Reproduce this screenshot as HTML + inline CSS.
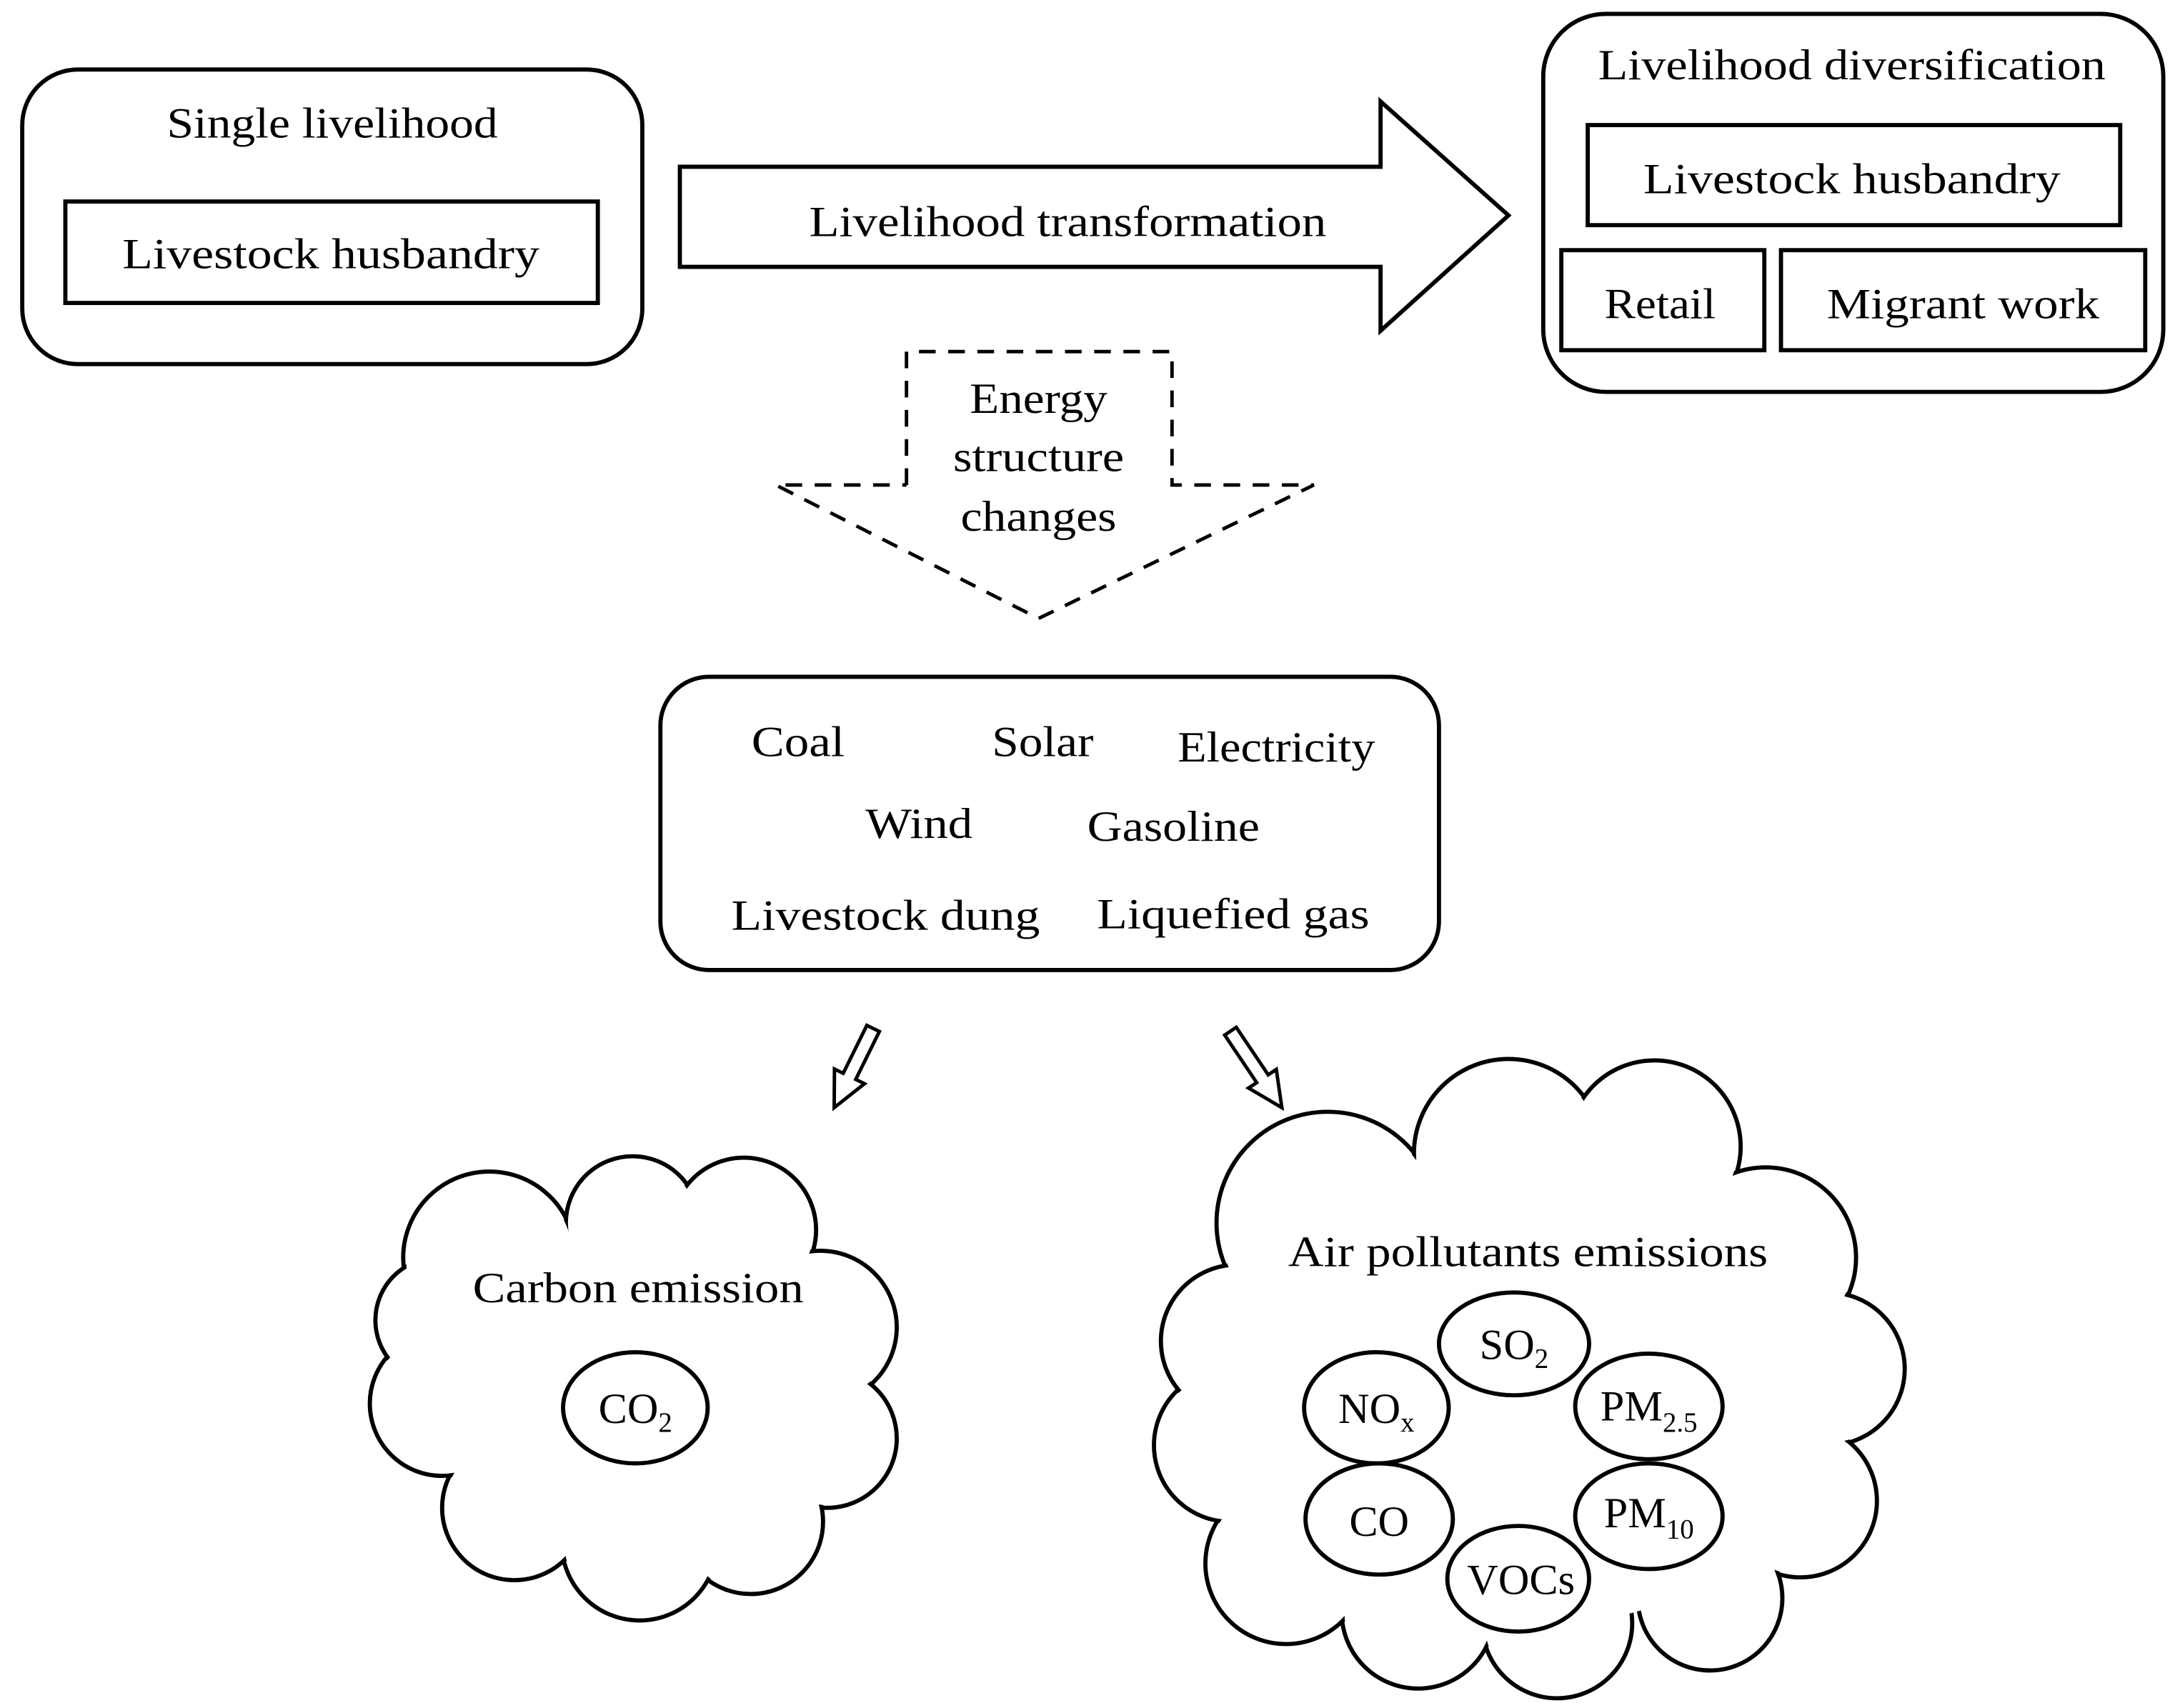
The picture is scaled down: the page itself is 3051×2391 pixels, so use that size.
<!DOCTYPE html>
<html><head><meta charset="utf-8"><style>
html,body{margin:0;padding:0;background:#fff;}
svg{display:block;}
text{font-family:"Liberation Serif",serif;font-size:31px;fill:#000;}
</style></head><body>
<svg width="3051" height="2391" viewBox="0 0 1568 1229" preserveAspectRatio="none" xmlns="http://www.w3.org/2000/svg">
<g fill="none" stroke="#000" stroke-width="3">
<rect x="16" y="50" width="446" height="212" rx="40"/>
<rect x="47" y="145" width="383" height="73"/>
<polygon points="489,120 993,120 993,73 1085,155 993,238 993,192 489,192" fill="#fff"/>
<rect x="1110" y="10" width="446" height="272" rx="45"/>
<rect x="1142" y="90" width="383" height="72"/>
<rect x="1123" y="180" width="146" height="72"/>
<rect x="1281" y="180" width="262" height="72"/>
<polyline points="652,349 652,253 843,253 843,349 945,349 747,445 558,349 652,349" stroke-dasharray="12,9" stroke-width="2.5"/>
<rect x="475" y="487" width="560" height="211" rx="35"/>
<polygon points="623.5,737.8 632.5,742.2 615.5,776.7 621.8,779.8 600,797 600.2,769.2 606.5,772.3" fill="#fff" stroke-width="2.5"/>
<polygon points="880.9,744.8 889.2,739.2 912.2,773.4 918,769.5 922,797 898,782.9 903.9,779" fill="#fff" stroke-width="2.5"/>
</g>
<g fill="#fff" stroke="#000" stroke-width="3">
<circle cx="352" cy="905" r="62"/><circle cx="455" cy="880" r="48"/><circle cx="535" cy="885" r="52"/>
<circle cx="590" cy="955" r="55"/><circle cx="595" cy="1035" r="50"/><circle cx="540" cy="1095" r="52"/>
<circle cx="460" cy="1110" r="56"/><circle cx="370" cy="1085" r="52"/><circle cx="318" cy="1010" r="52"/>
<circle cx="315" cy="950" r="45"/>
</g>
<g fill="#fff" stroke="none">
<circle cx="352" cy="905" r="60"/><circle cx="455" cy="880" r="46"/><circle cx="535" cy="885" r="50"/>
<circle cx="590" cy="955" r="53"/><circle cx="595" cy="1035" r="48"/><circle cx="540" cy="1095" r="50"/>
<circle cx="460" cy="1110" r="54"/><circle cx="370" cy="1085" r="50"/><circle cx="318" cy="1010" r="50"/>
<circle cx="315" cy="950" r="43"/><ellipse cx="455" cy="995" rx="140" ry="110"/>
</g>
<g fill="#fff" stroke="#000" stroke-width="3">
<circle cx="955" cy="880" r="80"/><circle cx="1085" cy="830" r="68"/><circle cx="1190" cy="825" r="62"/>
<circle cx="1270" cy="905" r="65"/><circle cx="1315" cy="985" r="55"/><circle cx="1295" cy="1080" r="55"/>
<circle cx="1230" cy="1150" r="52"/><circle cx="1120" cy="1168" r="54"/><circle cx="1020" cy="1160" r="55"/>
<circle cx="925" cy="1125" r="58"/><circle cx="885" cy="1040" r="55"/><circle cx="890" cy="965" r="55"/>
</g>
<g fill="#fff" stroke="none">
<circle cx="955" cy="880" r="78"/><circle cx="1085" cy="830" r="66"/><circle cx="1190" cy="825" r="60"/>
<circle cx="1270" cy="905" r="63"/><circle cx="1315" cy="985" r="53"/><circle cx="1295" cy="1080" r="53"/>
<circle cx="1230" cy="1150" r="50"/><circle cx="1120" cy="1168" r="52"/><circle cx="1020" cy="1160" r="53"/>
<circle cx="925" cy="1125" r="56"/><circle cx="885" cy="1040" r="53"/><circle cx="890" cy="965" r="53"/>
<ellipse cx="1100" cy="1000" rx="225" ry="170"/>
</g>
<g fill="none" stroke="#000" stroke-width="3">
<ellipse cx="457" cy="1013" rx="52" ry="40"/>
<ellipse cx="1089" cy="967" rx="54" ry="37"/>
<ellipse cx="990" cy="1013" rx="52" ry="40"/>
<ellipse cx="1186" cy="1012" rx="53" ry="38"/>
<ellipse cx="992" cy="1093" rx="53" ry="40"/>
<ellipse cx="1186" cy="1091" rx="53" ry="38"/>
<ellipse cx="1092" cy="1136" rx="51" ry="38"/>
</g>
<g text-anchor="middle">
<text x="239" y="99" textLength="238" lengthAdjust="spacingAndGlyphs">Single livelihood</text>
<text x="238" y="193" textLength="300" lengthAdjust="spacingAndGlyphs">Livestock husbandry</text>
<text x="768" y="170" textLength="372" lengthAdjust="spacingAndGlyphs">Livelihood transformation</text>
<text x="1332" y="57" textLength="365" lengthAdjust="spacingAndGlyphs">Livelihood diversification</text>
<text x="1332" y="139" textLength="300" lengthAdjust="spacingAndGlyphs">Livestock husbandry</text>
<text x="1194" y="229" textLength="80" lengthAdjust="spacingAndGlyphs">Retail</text>
<text x="1412" y="229" textLength="196" lengthAdjust="spacingAndGlyphs">Migrant work</text>
<text x="747" y="297" textLength="99" lengthAdjust="spacingAndGlyphs">Energy</text>
<text x="747" y="339" textLength="123" lengthAdjust="spacingAndGlyphs">structure</text>
<text x="747" y="382" textLength="112" lengthAdjust="spacingAndGlyphs">changes</text>
<text x="574" y="544" textLength="67" lengthAdjust="spacingAndGlyphs">Coal</text>
<text x="750" y="544" textLength="73" lengthAdjust="spacingAndGlyphs">Solar</text>
<text x="918" y="548" textLength="142" lengthAdjust="spacingAndGlyphs">Electricity</text>
<text x="661" y="603" textLength="77" lengthAdjust="spacingAndGlyphs">Wind</text>
<text x="844" y="605" textLength="124" lengthAdjust="spacingAndGlyphs">Gasoline</text>
<text x="637" y="669" textLength="222" lengthAdjust="spacingAndGlyphs">Livestock dung</text>
<text x="887" y="668" textLength="196" lengthAdjust="spacingAndGlyphs">Liquefied gas</text>
<text x="459" y="937" textLength="238" lengthAdjust="spacingAndGlyphs">Carbon emission</text>
<text x="1099" y="911" textLength="345" lengthAdjust="spacingAndGlyphs">Air pollutants emissions</text>
<text x="457" y="1024">CO<tspan font-size="20" dy="6">2</tspan></text>
<text x="1089" y="978">SO<tspan font-size="20" dy="6">2</tspan></text>
<text x="990" y="1024">NO<tspan font-size="20" dy="6">x</tspan></text>
<text x="1186" y="1022">PM<tspan font-size="20" dy="8">2.5</tspan></text>
<text x="992" y="1105">CO</text>
<text x="1186" y="1099">PM<tspan font-size="20" dy="8">10</tspan></text>
<text x="1094" y="1147">VOCs</text>
</g>
</svg>
</body></html>
